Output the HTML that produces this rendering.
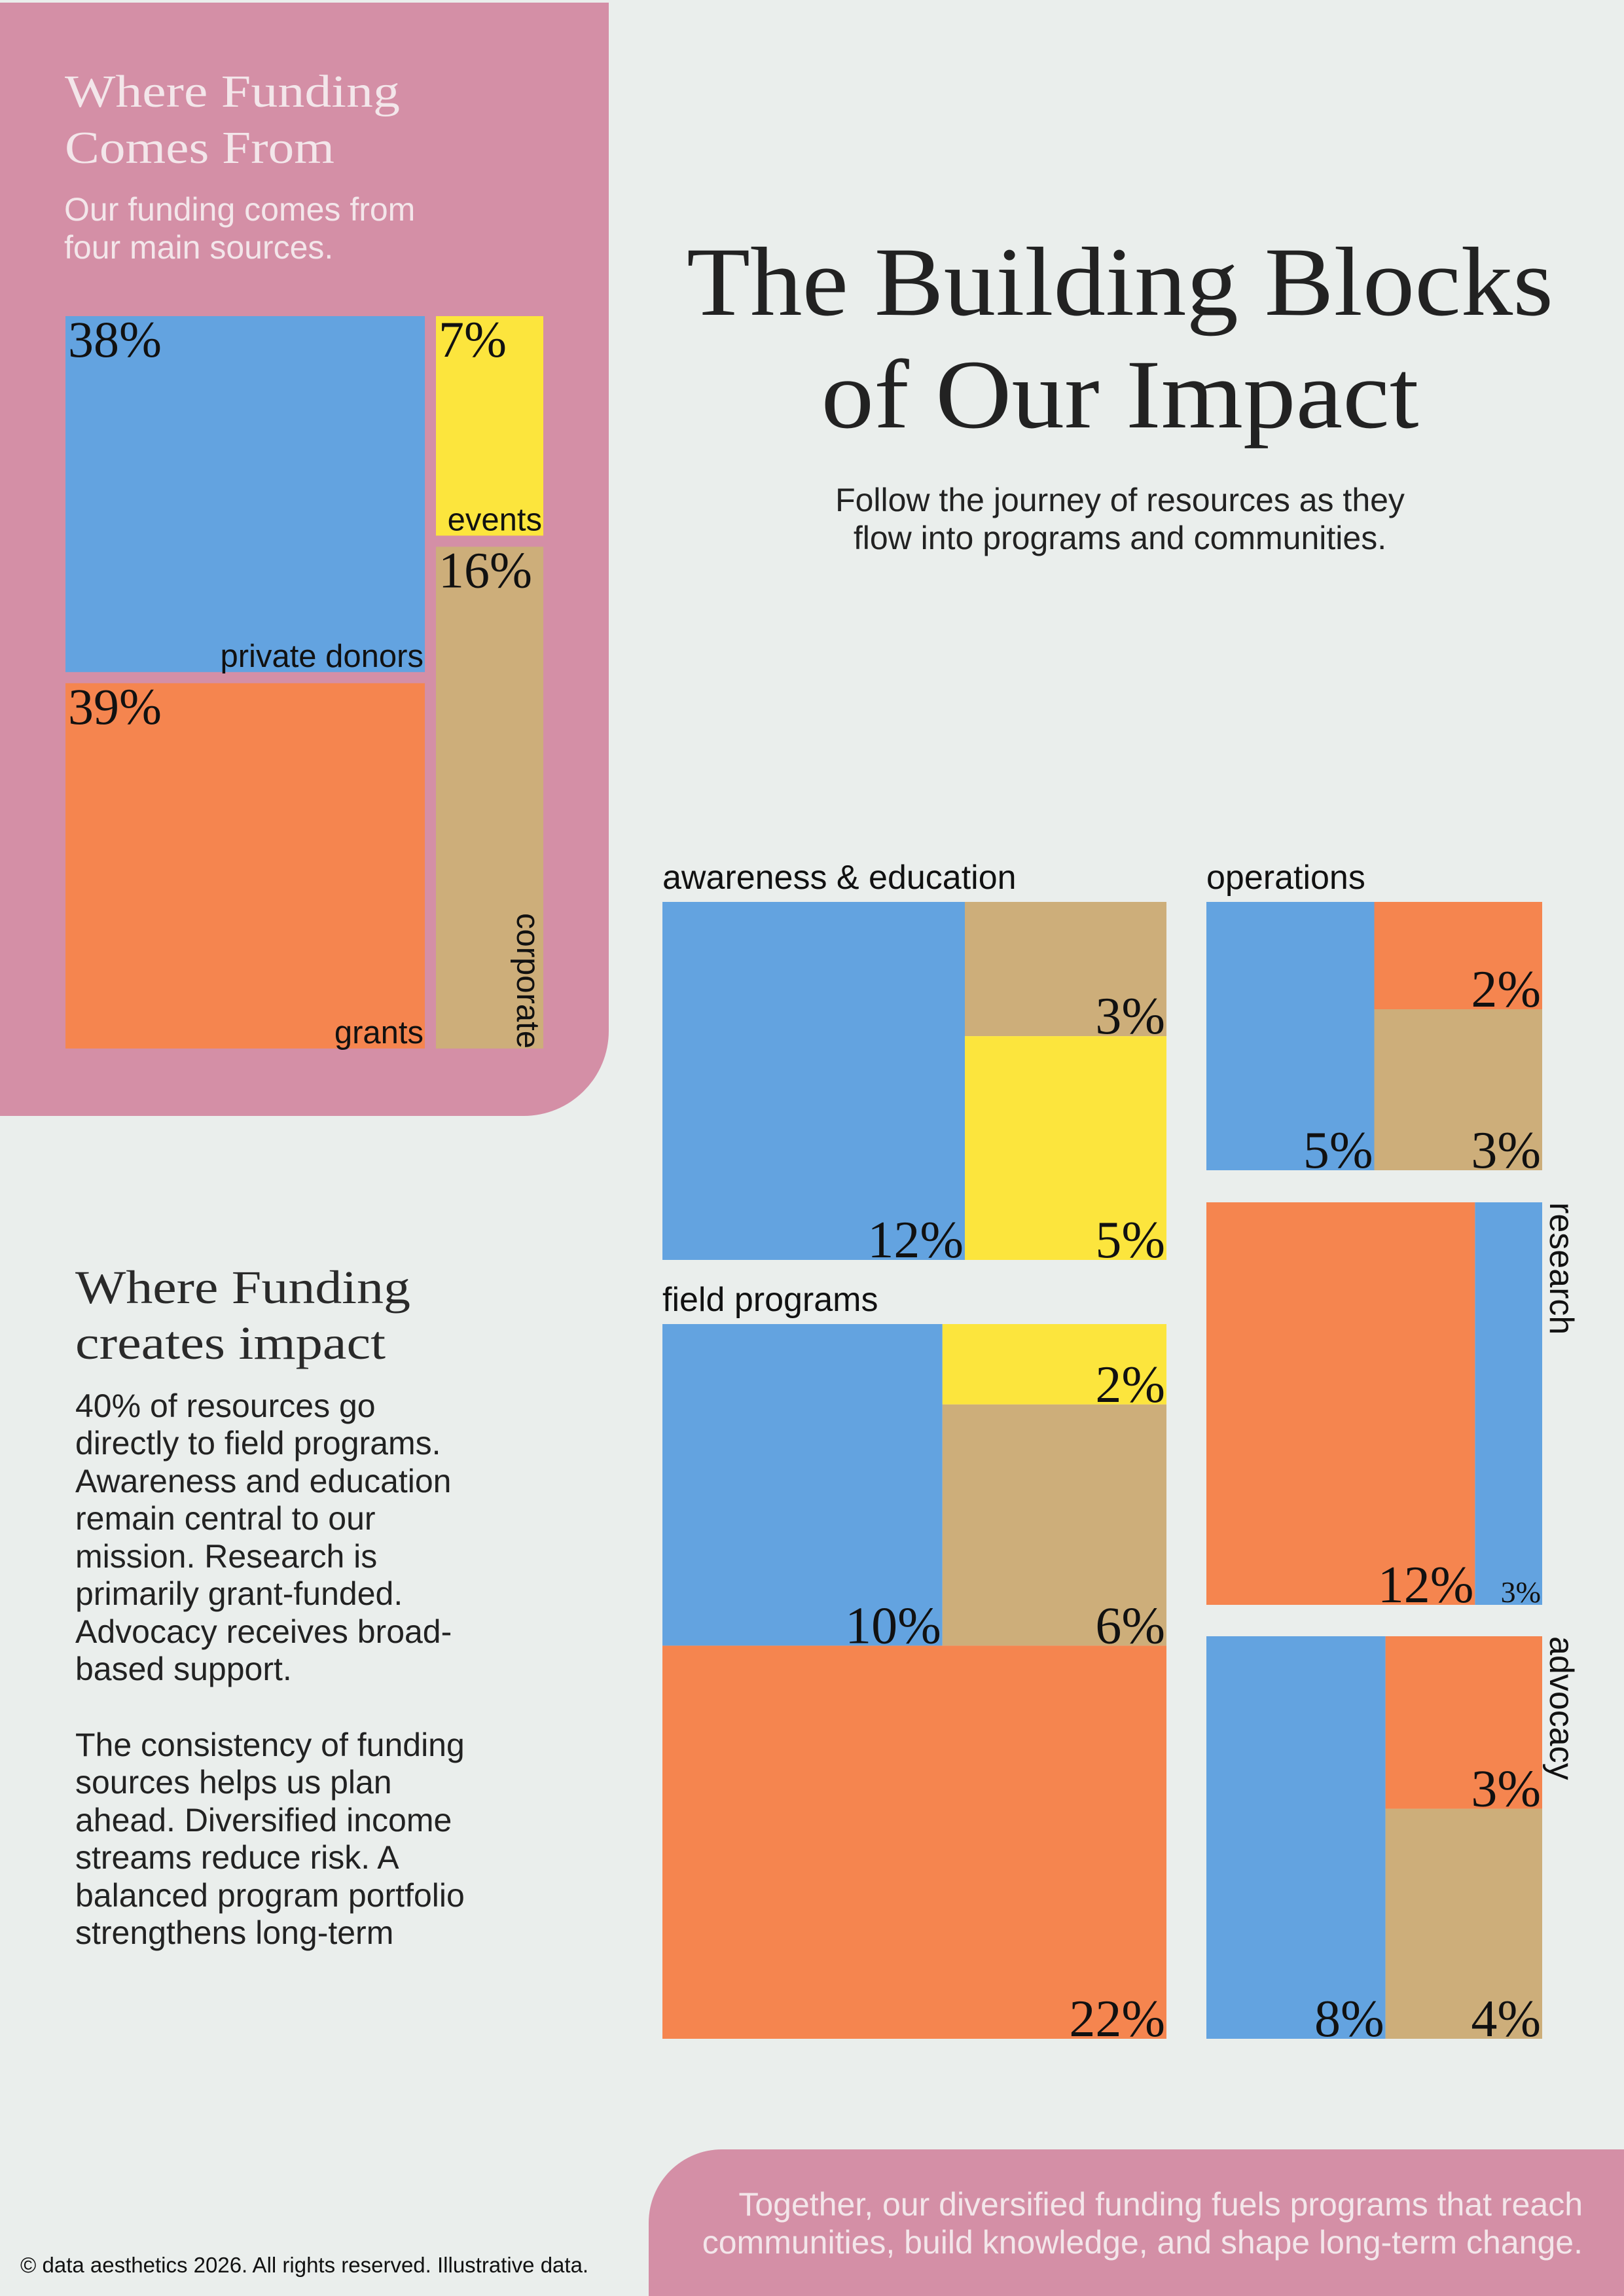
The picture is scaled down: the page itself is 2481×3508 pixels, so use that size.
<!DOCTYPE html>
<html><head><meta charset="utf-8">
<style>
html,body{margin:0;padding:0;}
body{width:2481px;height:3508px;background:#eaeeec;position:relative;overflow:hidden;font-family:"Liberation Sans",sans-serif;}
svg{position:absolute;left:0;top:0;}
</style></head>
<body>
<svg id="page" width="2481" height="3508" viewBox="0 0 2481 3508" xmlns="http://www.w3.org/2000/svg">
  <path d="M0 4 H930 V1575 A130 130 0 0 1 800 1705 H0 Z" fill="#d48fa6"/>
  <text font-family="Liberation Serif, serif" font-size="70" fill="#f3e6ea"><tspan x="99" y="163" textLength="512" lengthAdjust="spacingAndGlyphs">Where Funding</tspan><tspan x="99" y="249" textLength="412" lengthAdjust="spacingAndGlyphs">Comes From</tspan></text>
  <text font-family="Liberation Sans, sans-serif" font-size="50" fill="#f3e6ea"><tspan x="98" y="337">Our funding comes from</tspan><tspan x="98" y="395">four main sources.</tspan></text>

  <text font-family="Liberation Serif, serif" font-size="150" fill="#222" text-anchor="middle"><tspan x="1711" y="481" textLength="1324" lengthAdjust="spacingAndGlyphs">The Building Blocks</tspan><tspan x="1711" y="653" textLength="913" lengthAdjust="spacingAndGlyphs">of Our Impact</tspan></text>
  <text font-family="Liberation Sans, sans-serif" font-size="50" fill="#222" text-anchor="middle"><tspan x="1711" y="781">Follow the journey of resources as they</tspan><tspan x="1711" y="839">flow into programs and communities.</tspan></text>

  <text font-family="Liberation Serif, serif" font-size="72" fill="#2a2a2a"><tspan x="115" y="1991" textLength="512" lengthAdjust="spacingAndGlyphs">Where Funding</tspan><tspan x="115" y="2076" textLength="474" lengthAdjust="spacingAndGlyphs">creates impact</tspan></text>
  <text font-family="Liberation Sans, sans-serif" font-size="50" fill="#222">
    <tspan x="115" y="2165">40% of resources go</tspan>
    <tspan x="115" y="2222">directly to field programs.</tspan>
    <tspan x="115" y="2280">Awareness and education</tspan>
    <tspan x="115" y="2337">remain central to our</tspan>
    <tspan x="115" y="2395">mission. Research is</tspan>
    <tspan x="115" y="2452">primarily grant-funded.</tspan>
    <tspan x="115" y="2510">Advocacy receives broad-</tspan>
    <tspan x="115" y="2567">based support.</tspan>
    <tspan x="115" y="2683">The consistency of funding</tspan>
    <tspan x="115" y="2740">sources helps us plan</tspan>
    <tspan x="115" y="2798">ahead. Diversified income</tspan>
    <tspan x="115" y="2855">streams reduce risk. A</tspan>
    <tspan x="115" y="2913">balanced program portfolio</tspan>
    <tspan x="115" y="2970">strengthens long-term</tspan>
  </text>

  <path d="M991 3396 A112 112 0 0 1 1103 3284 H2481 V3508 H991 Z" fill="#d48fa6"/>
  <text font-family="Liberation Sans, sans-serif" font-size="50" fill="#f3e6ea" text-anchor="end"><tspan x="2418" y="3385">Together, our diversified funding fuels programs that reach</tspan><tspan x="2418" y="3443">communities, build knowledge, and shape long-term change.</tspan></text>
  <text x="31" y="3472" font-family="Liberation Sans, sans-serif" font-size="33" fill="#111">© data aesthetics 2026. All rights reserved. Illustrative data.</text>
  <g id="charts"></g>
</svg>
<script>
// Funding sources (percent of total)
const fundCats = ['private donors', 'grants', 'events', 'corporate'];
const fundVals = [38, 39, 7, 16];
// Allocation by program, broken down by source
const awareCats = ['private donors', 'corporate', 'events'];
const awareVals = [12, 3, 5];
const fieldCats = ['private donors', 'events', 'corporate', 'grants'];
const fieldVals = [10, 2, 6, 22];
const opsCats = ['private donors', 'grants', 'corporate'];
const opsVals = [5, 2, 3];
const resCats = ['grants', 'private donors'];
const resVals = [12, 3];
const advCats = ['private donors', 'grants', 'corporate'];
const advVals = [8, 3, 4];

const COLORS = {'private donors':'#63a3e0','grants':'#f5854f','events':'#fce53d','corporate':'#cdae7a'};
const NS = 'http://www.w3.org/2000/svg';
const root = document.getElementById('charts');

function mk(tag, attrs, parent){
  const e = document.createElementNS(NS, tag);
  for (const k in attrs) e.setAttribute(k, attrs[k]);
  (parent || root).appendChild(e);
  return e;
}
function total(node, vals){ return typeof node === 'number' ? vals[node] : node.c.reduce((s,n)=>s+total(n,vals),0); }
function layout(node, vals, x, y, w, h, gap, out){
  if (typeof node === 'number'){ out.push({i:node,x,y,w,h}); return; }
  const T = total(node, vals);
  const n = node.c.length;
  const avail = (node.d === 'h' ? w : h) - gap*(n-1);
  let pos = node.d === 'h' ? x : y;
  node.c.forEach(ch => {
    const s = avail * total(ch, vals) / T;
    if (node.d === 'h') layout(ch, vals, pos, y, s, h, gap, out);
    else layout(ch, vals, x, pos, w, s, gap, out);
    pos += s + gap;
  });
}

// ---- funding source treemap
(function(){
  const rects = [];
  layout({d:'h', c:[{d:'v', c:[0,1]}, {d:'v', c:[2,3]}]}, fundVals, 100, 483, 730, 1119, 17, rects);
  rects.forEach(r => {
    const cat = fundCats[r.i];
    const g = mk('g', {});
    
    
    const rc = mk('rect', {x:r.x, y:r.y, width:r.w, height:r.h, fill:COLORS[cat]}, g);
    
    
    const p = mk('text', {x:r.x+4, y:r.y+62, 'font-family':'Liberation Serif, serif', 'font-size':'78', fill:'#111'}, g);
    
    
    p.textContent = fundVals[r.i] + '%';
    let t;
    if (cat === 'corporate'){
      const tx = r.x + r.w - 40, ty = r.y + r.h;
      t = mk('text', {x:tx, y:ty, transform:'rotate(90 '+tx+' '+ty+')', 'text-anchor':'end', 'font-family':'Liberation Sans, sans-serif', 'font-size':'49', fill:'#111'}, g);
    } else {
      t = mk('text', {x:r.x+r.w-2, y:r.y+r.h-8, 'text-anchor':'end', 'font-family':'Liberation Sans, sans-serif', 'font-size':'49', fill:'#111'}, g);
    }
    
    
    t.textContent = cat;
  });
})();

// ---- program treemaps
function program(name, cats, vals, tree, x, y, w, h, title, titlePos){
  const g = mk('g', {});
  
  
  const rects = [];
  layout(tree, vals, x, y, w, h, 0, rects);
  rects.forEach(r => {
    const rc = mk('rect', {x:r.x, y:r.y, width:r.w, height:r.h, fill:COLORS[cats[r.i]]}, g);
    
    
    const small = r.w < 150;
    const t = mk('text', {x:r.x+r.w-2, y:r.y+r.h-4, 'text-anchor':'end', 'font-family':'Liberation Serif, serif', 'font-size': small ? '46' : '80', fill:'#111'}, g);
    
    
    t.textContent = vals[r.i] + '%';
  });
  let lt;
  if (titlePos === 'top'){
    lt = mk('text', {x:x, y:y-20, 'font-family':'Liberation Sans, sans-serif', 'font-size':'52', fill:'#111'}, g);
  } else {
    const tx = x + w + 12, ty = y;
    lt = mk('text', {x:tx, y:ty, transform:'rotate(90 '+tx+' '+ty+')', 'font-family':'Liberation Sans, sans-serif', 'font-size':'52', fill:'#111'}, g);
  }
  
  
  lt.textContent = title;
}
program('awareness', awareCats, awareVals, {d:'h', c:[0, {d:'v', c:[1,2]}]}, 1012, 1378, 770, 547, 'awareness & education', 'top');
program('field', fieldCats, fieldVals, {d:'v', c:[{d:'h', c:[0, {d:'v', c:[1,2]}]}, 3]}, 1012, 2023, 770, 1092, 'field programs', 'top');
program('operations', opsCats, opsVals, {d:'h', c:[0, {d:'v', c:[1,2]}]}, 1843, 1378, 513, 410, 'operations', 'top');
program('research', resCats, resVals, {d:'h', c:[0, 1]}, 1843, 1837, 513, 615, 'research', 'side');
program('advocacy', advCats, advVals, {d:'h', c:[0, {d:'v', c:[1,2]}]}, 1843, 2500, 513, 615, 'advocacy', 'side');
</script>
</body></html>
